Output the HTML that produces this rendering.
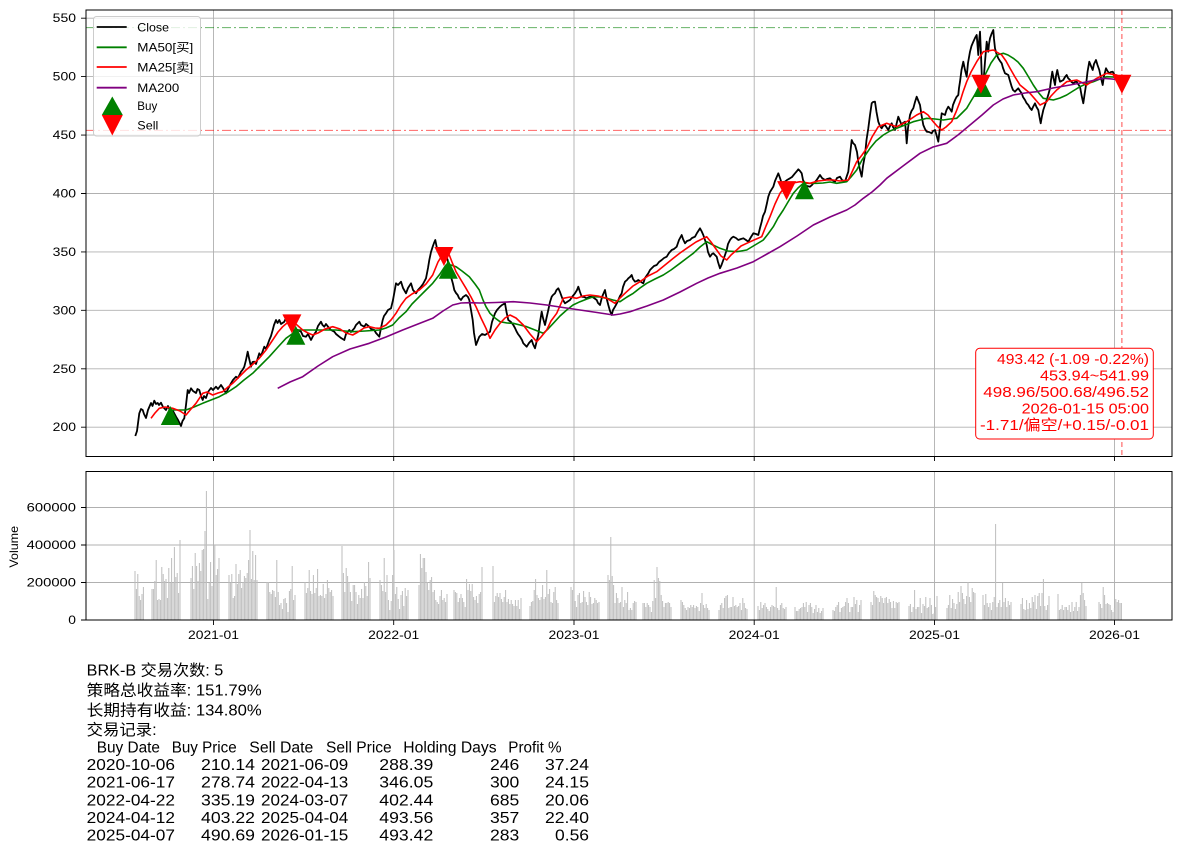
<!DOCTYPE html>
<html><head><meta charset="utf-8"><style>
html,body{margin:0;padding:0;background:#fff;}
svg{display:block;}
text{font-family:"Liberation Sans","Noto Sans CJK SC",sans-serif;fill:#000;}
</style></head><body>
<svg width="1180" height="852" viewBox="0 0 1180 852" xmlns="http://www.w3.org/2000/svg">
<defs>
<clipPath id="cm"><rect x="86" y="10" width="1086" height="446.5"/></clipPath>
<clipPath id="cv"><rect x="86" y="471.5" width="1086" height="148.5"/></clipPath>
</defs>
<rect width="1180" height="852" fill="#fff"/>

<!-- main grid -->
<g stroke="#b0b0b0" stroke-width="0.9" fill="none">
<path d="M213.5 10V456.5M393.7 10V456.5M574 10V456.5M754.2 10V456.5M934.5 10V456.5M1114.5 10V456.5"/>
<path d="M86 18.2H1172M86 76.6H1172M86 135.1H1172M86 193.5H1172M86 251.9H1172M86 310.3H1172M86 368.8H1172M86 427.2H1172"/>
</g>

<g clip-path="url(#cm)" fill="none">
<!-- horizontal ref lines -->
<path d="M86 27.6H1172" stroke="#008000" stroke-opacity="0.6" stroke-width="1" stroke-dasharray="9,3,2,3"/>
<path d="M86 130.4H1172" stroke="#ff0000" stroke-opacity="0.6" stroke-width="1" stroke-dasharray="9,3,2,3"/>
<path d="M1121.9 10V456.5" stroke="#ff0000" stroke-opacity="0.7" stroke-width="1" stroke-dasharray="5,3"/>

<!-- close -->
<polyline stroke="#000" stroke-width="1.8" stroke-linejoin="round" points="135.3,436 137,431 139.3,413.3 141,409 142.7,410 144,414 146,418 148,410 151,403 152.5,406 154.3,400.7 156,404 157.7,403 159,405 161,402.7 163,407 166,410 168,406 171,413 173,411 176,416.7 178,420 181,426 182.5,421 184.3,418.3 186,405 187.7,390 189,393 191,388.3 193,391 196,393 197.5,389 199.3,390 201,396 202.7,400 204,396 206,398 208,392 211,388 213,390 216,386.7 218,389 221,385 223,388 226,393.3 228,389 231,383.3 233,380 236,376.7 238,378 241,371.7 242.5,370 244.3,366.7 246,360 247.7,351.7 249,358 251,366.7 252.5,362 254.3,361.7 256,364 259.3,353.3 261,356 264.3,346.7 266,349 269.3,340 271,336 272.7,330 274,325 276,320 277.5,323 279.3,320 281,324 284.3,321.7 286,318 287.7,318.3 289,322 291,323.3 293,330 296,333.3 298,330 301,331.7 303,336 306,336.7 308,334 311,340 313,336 316,331.7 318,326 321,321.7 322.5,325 324.3,326.7 326,324 329.3,328.3 331,330 334.3,331.7 336,334 339.3,336.7 341,338 344.3,340 346,334 349.3,330 351,332 354.3,328.3 356,325 359.3,321.7 361,325 364.3,326.7 366,324 369.3,326.7 371,329 374.3,330 376,333 379.3,336.7 381,328 382.7,320 384,316 386,313.3 388,310 391,308.3 393,300 396,283.3 398,285 401,281.7 403,288 406,293.3 408,288 411,283.3 413,290 416,293.3 418,290 421,286.7 423,284 426,278.3 428,268 429.3,260 431,252 432.7,246.7 434,243 435.3,240 436.5,246 437.7,251.7 439,249 441,248.3 443,250 444.3,253.3 446,256 447.7,260 449,268 451,276.7 453,284 454.3,290 456,293 457.7,295 459,298 461,300 463,297 466,295 468,297 469.3,300 471,310 472.7,320 474,333 476,345 478,340 479.3,336.7 482,334 485,335 488,333 490,331.7 492,322 495,313.3 497,310 500,306.7 502,305 505,303.3 506.5,312 508.3,320 511,322 513.3,325 515,328 516.7,331.7 518,334 520,336.7 522,340 523.3,343.3 525,345 526.7,346.7 529,343 531.7,340 533,344 535,348.3 536.5,342 538.3,335 540,322 541.7,311.7 543,318 545,325 546.5,318 548.3,310 550,302 551.7,296.7 553,295 555,293.3 556.5,290 558.3,288.3 560,292 561.7,296.7 563,300 565,303.3 567,302 570,300 572,297 575,293.3 577,290 578.3,286.7 580,292 581.7,296.7 584,297 586.7,298.3 589,297 591.7,296.7 594,298 596.7,300 598,303 600,305 602,297 605,290 606.5,298 608.3,305 610,311 611.7,315 613,310 615,306.7 617,303 618.3,300 620,296 621.7,293.3 623,287 625,281.7 627,280 628.3,278.3 630,277 631.7,275 633,279 635,281.7 637,281 638.3,280 641,282 643.3,283.3 645,278 648.3,273.3 650,270 651.7,268.3 654,266 656.7,265 659,262 661.7,260 664,258 666.7,256.7 669,253 671.7,250 674,249 676.7,246.7 679,240 681.7,235 683,239 685,243.3 687,241 690,240 692,238 695,236.7 697,233 700,228.3 701.5,231 703.3,235 705,240 706.7,245 708,252 710,256.7 712,254 713.3,253.3 715,255 716.7,256.7 718,262 720,268.3 721.5,265 723.3,260 725,255 726.7,250 728,244 730,240 731.5,238 733.3,236.7 736,238 738.3,240 741,239 743.3,238.3 746,240 748.3,241.7 751,237 753.3,233.3 756,234 758.3,235 760,228 761.7,221.7 763,216 765,211.7 767,203 768.3,196.7 770,192 773.3,186.7 775,181 778.3,173.3 780,178 781.7,183.3 783,182 785,181.7 787,180 790,178.3 792,177 795,173.3 797,171 798.3,169.3 800,171 801.7,173.3 803,180 805,185 807,186 810,186.7 812,185 813.3,183.3 815,182 816.7,180 818,178 820,175 822,178 825,180 827,179 830,178.3 832,180 835,181.7 837,178 840,176.7 842,180 845,181.7 846.5,177 848.3,171.7 850,155 851.7,140 853,143 855,145 857,152 858.3,161.7 860,170 861.7,176.7 863,166 865,155 866.5,140 868.3,128.3 870,115 871.7,103.3 873,102 875,101.7 876.5,112 878.3,121.7 880,126 881.7,128.3 883,126 885,125 887,128 888.3,130 890,126 891.7,123.3 893,127 895,130 897,122 898.3,116.7 900,121 901.7,125 903,123 905,121.7 906,133 906.7,143.3 908,128 910,115 911.5,111 913.3,108.3 915,102 916.7,96.7 918,100 920,105 921.5,115 923.3,125 925,129 926.7,131.7 929,132 931.7,133.3 933,131 935,130 936.5,135 938.3,141.7 940,127 941.7,113.3 943,114 945,115 946.5,110 948.3,106.7 950,109 951.7,111.7 953,105 955,100 956.5,97 958.3,95 959,88 960,81.7 961.5,70 963.3,61.7 965,70 966.7,76.7 968,63 970,51.7 971.5,46 973.3,41.7 975,38 976.7,35 977.5,45 978.3,55 979,42 980,31.7 981,55 981.7,73.3 982.5,85 983.3,91.7 984,75 985,61.7 986,50 986.7,41.7 987.5,47 988.3,51.7 989,44 990,38.3 991.5,34 993.3,30 994,39 995,48.3 996.5,54 998.3,58.3 1000,61 1001.7,63.3 1003,68 1005,73.3 1006.5,74 1008.3,75 1010,81 1011.7,86.7 1013,90 1015,91.7 1016.5,90 1018.3,88.3 1020,91 1021.7,93.3 1023,97 1025,100 1026.5,103 1028.3,105 1030,108 1031.7,110 1033,107 1035,103.3 1036.5,107 1038.3,110 1039.5,117 1040.7,123.3 1042,116 1043.3,110 1045,105 1046.7,100 1048.5,94 1050,88.3 1051,80 1052.3,71.7 1053.5,78 1055,85 1056,76 1057.3,70 1058.5,76 1060,81.7 1061.5,81 1063.3,80 1065,77 1066.7,75 1068,78 1070,80 1071.5,82 1073.3,83.3 1075,82 1076.7,81.7 1078,84 1080,86.7 1081.5,95 1083.3,103.3 1084.5,95 1086,85 1087.5,72 1089.3,61.7 1091,66 1092.7,70 1094,64 1096,60 1097.5,65 1099.3,70 1101,78 1102.7,85 1104,76 1106,68.3 1107.5,71 1109.3,73.3 1111,72 1112.7,71.7 1114,74 1116,76.7 1118,80 1120,83.3 1121.5,84.3"/>

<!-- MA50 -->
<polyline stroke="#008000" stroke-width="1.6" stroke-linejoin="round" points="169.3,410 178,410 186,410 194,407 202.7,403.3 211,400 219.3,396.7 228,392 236,386.7 244,380 252.7,373.3 261,365 269.3,356.7 278,347 286,338.3 292,334 299.3,330 306,330 312.7,330 324,330 336,330 345,331 352.7,331.7 365,331 379.3,330 386,328 392.7,325 399,318 406,311.7 412,304 419.3,296.7 426,290 432.7,283.3 440,274 446,265 451,265 456,266.7 462,271 469.3,276.7 475,284 479.3,290 483,300 486,306.7 490,313.3 495,318 500,321.7 507,323 513.3,323.3 520,325 526.7,326.7 535,330 543.3,333.3 548,329 553.3,323.3 560,316 566.7,310 573,305 580,301.7 587,299 593.3,296.7 600,297 606.7,298.3 613,300 620,301.7 627,297 633.3,293.3 640,288 646.7,283.3 655,279 663.3,275 671,270 680,263.3 687,258 693.3,253.3 700,247 706.7,241.7 713,245 720,248.3 728,251 736.7,251.7 741,251 746.7,250 755,245 763.3,240 768,234 773.3,226.7 778,218 783.3,210 788,202 793.3,193.3 798,188 803.3,183.3 810,183.3 816.7,183.3 823,183 830,182 836.7,183.3 846.7,181.7 851,177 856.7,170 862,160 870,148.3 876,141 883.3,135 890,131 896.7,128.3 905,125 913.3,121.7 920,120 926.7,118.3 935,119 943.3,120 950,119 956.7,118.3 961,114 966.7,108.3 971,101 976.7,91.7 981,83 986.7,71.7 991,63 996.7,55 1003.3,53.3 1008,55 1013.3,58.3 1018,62 1023.3,68.3 1028,76 1033.3,85 1038,92 1043.3,98.3 1053.3,100 1060,98 1066.7,95 1073,91 1080,86.7 1086,84 1093.3,81.7 1100,79 1106.7,76.7 1113,77 1120,78.3"/>

<!-- MA25 -->
<polyline stroke="#ff0000" stroke-width="1.6" stroke-linejoin="round" points="151,418.3 155,413 159.3,408.3 165,407 172.7,408.3 180,411 186,415 191,409 196,403.3 202.7,393.3 207,392 212.7,395 218,393 222.7,391.7 228,387 232.7,383.3 240,376 246,370 252,365 259.3,358.3 266,350 272.7,340 278,332 282.7,326.7 287,323 292.7,321.7 297,325 302.7,330 308,333 312.7,335 318,333 325,329 332.7,326.7 340,329 346,333 352.7,335 358,332 364,328 369.3,326.7 375,328 379.3,328.3 386,325 391,320 396,313.3 401,305 406,298.3 412,294 419.3,290 426,284 432.7,275 438,262 444.3,251.7 449.3,255 452,262 456,271.7 461,280 466,288.3 471,297 476,306.7 481,318 486,328.3 490,338.3 495,330 500,323.3 505,318 510,315 516,318 523.3,325 530,334 536.7,341.7 541,337 546.7,330 551,321 556.7,313.3 563.3,298.3 570,297 576.7,298.3 583,296 590,295 598,296 606.7,298.3 615,303.3 620,298 626.7,291.7 633,286 640,281.7 648,276 656.7,271.7 665,265 673.3,258.3 680,253 686.7,248.3 696,242 706.7,236.7 711,242 716.7,250 721,256 726.7,260 731,255 736.7,250 741,246 746.7,243.3 754,240 761.7,236.7 766,226 770,216.7 775,204 780,193.3 786.7,185 793,183 800,181.7 810,183.3 818,181 826.7,180 833.3,180 840,181 848.3,180 852,172 856.7,161.7 862,155 866.7,148.3 872,137 878.3,126.7 886.7,123.3 896.7,126.7 906.7,121.7 916.7,115 923.3,111.7 928,115 933.3,121.7 937,126 941.7,130 946,127 951.7,121.7 956,112 960,101.7 963,92 966.7,81.7 971,72 976.7,61.7 983.3,51.7 993.3,50 1001.7,55 1006,61 1010,68.3 1015,77 1020,85 1030,93.3 1040,105 1046.7,101.7 1051,96 1056.7,90 1066.7,81.7 1076.7,80 1086.7,85 1096.7,78.3 1106.7,73.3 1116.7,75 1121.5,78.3"/>

<!-- MA200 -->
<polyline stroke="#800080" stroke-width="1.6" stroke-linejoin="round" points="277.7,388.3 290,382 302.7,376.7 318,366 332.7,356.7 350,349 369.3,343.3 386,337 402.7,330 418,324 432.7,318.3 443,311 452.7,305 461,303 469.3,302.7 480,303 496,302.5 513.3,301.7 530,303 546.7,305 563,307.5 580,310 597,312.5 613.3,315 620,314 630,311.7 647,306 663.3,300 680,292 696.7,283.3 708,278 720,273.3 737,268 753.3,261.7 767,254 780,246.7 797,236 813.3,225 830,217 846.7,210 855,205 863.3,198.3 872,192 880,185 886.7,178.3 903,166 920,153.3 933,147 946.7,143.3 958,135 970,125 982,115 993.3,105 1003,99 1013.3,95 1025,93 1036.7,91.7 1053,88 1070,85 1086,82 1103.3,78.3 1112,79 1120,80"/>

<!-- buy markers -->
<g fill="#008000" stroke="none">
<polygon points="170.3,406 160.8,425 179.8,425"/>
<polygon points="295.8,325.7 286.3,344.7 305.3,344.7"/>
<polygon points="448.3,259.7 438.8,278.7 457.8,278.7"/>
<polygon points="804.4,180.2 794.9,199.2 813.9,199.2"/>
<polygon points="982.4,78 972.9,97 991.9,97"/>
</g>
<!-- sell markers -->
<g fill="#ff0000" stroke="none">
<polygon points="282.4,314.4 301.4,314.4 291.9,333.4"/>
<polygon points="434.4,247 453.4,247 443.9,266"/>
<polygon points="777.1,181.1 796.1,181.1 786.6,200.1"/>
<polygon points="971.4,74.7 990.4,74.7 980.9,93.7"/>
<polygon points="1112.4,74.8 1131.4,74.8 1121.9,93.8"/>
</g>
</g>

<!-- info box -->
<rect x="975.7" y="348.3" width="177.6" height="90.7" rx="4" ry="4" fill="#fff" stroke="#ff0000" stroke-width="1"/>
<g font-size="15" text-anchor="end" style="fill:#ff0000">
<text x="1149" y="364" textLength="152" lengthAdjust="spacingAndGlyphs" style="fill:#ff0000">493.42 (-1.09 -0.22%)</text>
<text x="1149" y="380.5" textLength="109" lengthAdjust="spacingAndGlyphs" style="fill:#ff0000">453.94~541.99</text>
<text x="1149" y="397" textLength="165.7" lengthAdjust="spacingAndGlyphs" style="fill:#ff0000">498.96/500.68/496.52</text>
<text x="1149" y="413.5" textLength="127.3" lengthAdjust="spacingAndGlyphs" style="fill:#ff0000">2026-01-15 05:00</text>
<text x="1149" y="430" textLength="169" lengthAdjust="spacingAndGlyphs" style="fill:#ff0000">-1.71/偏空/+0.15/-0.01</text>
</g>

<!-- legend -->
<rect x="93.5" y="16.5" width="107" height="119.5" rx="3" ry="3" fill="#fff" fill-opacity="0.8" stroke="#cccccc" stroke-width="1"/>
<g stroke-width="1.8">
<path d="M96.7 27H126.7" stroke="#000"/>
<path d="M96.7 47.3H126.7" stroke="#008000"/>
<path d="M96.7 67H126.7" stroke="#ff0000"/>
<path d="M96.7 87.7H126.7" stroke="#800080"/>
</g>
<polygon points="112.3,96.5 101.8,115 122.8,115" fill="#008000"/>
<polygon points="101.8,115 122.8,115 112.3,135.5" fill="#ff0000"/>
<g font-size="12">
<text x="137.3" y="31.3" textLength="31.7" lengthAdjust="spacingAndGlyphs">Close</text>
<text x="137.3" y="51.6" textLength="56" lengthAdjust="spacingAndGlyphs">MA50[买]</text>
<text x="137.3" y="71.3" textLength="56" lengthAdjust="spacingAndGlyphs">MA25[卖]</text>
<text x="137.3" y="92" textLength="42" lengthAdjust="spacingAndGlyphs">MA200</text>
<text x="137.3" y="110" textLength="20" lengthAdjust="spacingAndGlyphs">Buy</text>
<text x="137.3" y="129.3" textLength="21" lengthAdjust="spacingAndGlyphs">Sell</text>
</g>

<!-- main spines & ticks -->
<rect x="86" y="10" width="1086" height="446.5" fill="none" stroke="#000" stroke-width="1"/>
<path stroke="#000" stroke-width="0.9" d="M81 18.2H86M81 76.6H86M81 135.1H86M81 193.5H86M81 251.9H86M81 310.3H86M81 368.8H86M81 427.2H86M213.5 456.5V461M393.7 456.5V461M574 456.5V461M754.2 456.5V461M934.5 456.5V461M1114.5 456.5V461"/>
<g font-size="12" text-anchor="end">
<text x="76" y="22.2" textLength="23.3" lengthAdjust="spacingAndGlyphs">550</text>
<text x="76" y="80.6" textLength="23.3" lengthAdjust="spacingAndGlyphs">500</text>
<text x="76" y="139.1" textLength="23.3" lengthAdjust="spacingAndGlyphs">450</text>
<text x="76" y="197.5" textLength="23.3" lengthAdjust="spacingAndGlyphs">400</text>
<text x="76" y="255.9" textLength="23.3" lengthAdjust="spacingAndGlyphs">350</text>
<text x="76" y="314.3" textLength="23.3" lengthAdjust="spacingAndGlyphs">300</text>
<text x="76" y="372.8" textLength="23.3" lengthAdjust="spacingAndGlyphs">250</text>
<text x="76" y="431.2" textLength="23.3" lengthAdjust="spacingAndGlyphs">200</text>
</g>

<!-- volume grid -->
<g stroke="#b0b0b0" stroke-width="0.9" fill="none">
<path d="M213.5 471.5V620M393.7 471.5V620M574 471.5V620M754.2 471.5V620M934.5 471.5V620M1114.5 471.5V620"/>
<path d="M86 582.5H1172M86 545H1172M86 507.5H1172"/>
</g>

<!-- volume bars -->
<g clip-path="url(#cv)">
<path fill="none" stroke="#bdbdbd" stroke-width="1" d="
M135 620v-49m1.4 49v-31m1.4 31v-46m1.4 46v-24m1.4 24v-20m1.4 20v-26m1.4 26v-33
M152 620v-31m1.4 31v-31m1.4 31v-39m1.4 39v-60m1.4 60v-20m1.4 20v-21m1.4 21v-20m1.4 20v-53m1.4 53v-46m1.4 46v-39m1.4 39v-41m1.4 41v-22m1.4 22v-52m1.4 52v-37m1.4 37v-62m1.4 62v-37m1.4 37v-73m1.4 73v-43m1.4 43v-47m1.4 47v-27m1.4 27v-80
M191 620v-42m1.4 42v-54m1.4 54v-31m1.4 31v-67m1.4 67v-54m1.4 54v-39m1.4 39v-57m1.4 57v-49m1.4 49v-70m1.4 70v-71m1.4 71v-89m1.4 89v-129m1.4 129v-21m1.4 21v-37m1.4 37v-58m1.4 58v-34m1.4 34v-37m1.4 37v-75m1.4 75v-45m1.4 45v-51m1.4 51v-62
M229 620v-45m1.4 45v-37m1.4 37v-46m1.4 46v-22m1.4 22v-24m1.4 24v-56m1.4 56v-36m1.4 36v-46m1.4 46v-50m1.4 50v-32m1.4 32v-38m1.4 38v-44m1.4 44v-42m1.4 42v-47m1.4 47v-60m1.4 60v-90m1.4 90v-41m1.4 41v-69m1.4 69v-40m1.4 40v-65m1.4 65v-40
M267 620v-38m1.4 38v-38m1.4 38v-28m1.4 28v-26m1.4 26v-30m1.4 30v-29m1.4 29v-23m1.4 23v-60m1.4 60v-28m1.4 28v-15m1.4 15v-17m1.4 17v-11m1.4 11v-21m1.4 21v-22m1.4 22v-17m1.4 17v-8m1.4 8v-29m1.4 29v-31m1.4 31v-54m1.4 54v-20m1.4 20v-25
M305 620v-38m1.4 38v-27m1.4 27v-32m1.4 32v-50m1.4 50v-29m1.4 29v-26m1.4 26v-45m1.4 45v-27m1.4 27v-32m1.4 32v-51m1.4 51v-24m1.4 24v-25m1.4 25v-24m1.4 24v-36m1.4 36v-22m1.4 22v-26m1.4 26v-40m1.4 40v-32m1.4 32v-28m1.4 28v-30m1.4 30v-24
M342 620v-74m1.4 74v-47m1.4 47v-28m1.4 28v-52m1.4 52v-44m1.4 44v-38m1.4 38v-28m1.4 28v-19m1.4 19v-35m1.4 35v-35m1.4 35v-28m1.4 28v-16m1.4 16v-25m1.4 25v-22m1.4 22v-31m1.4 31v-22m1.4 22v-38m1.4 38v-34m1.4 34v-24m1.4 24v-58m1.4 58v-42
M380 620v-40m1.4 40v-35m1.4 35v-29m1.4 29v-62m1.4 62v-28m1.4 28v-45m1.4 45v-20m1.4 20v-10m1.4 10v-19m1.4 19v-45m1.4 45v-70m1.4 70v-26m1.4 26v-33m1.4 33v-21m1.4 21v-11m1.4 11v-25m1.4 25v-29m1.4 29v-14m1.4 14v-32m1.4 32v-24m1.4 24v-30
M419 620v-35m1.4 35v-66m1.4 66v-52m1.4 52v-62m1.4 62v-62m1.4 62v-48m1.4 48v-38m1.4 38v-30m1.4 30v-40m1.4 40v-43m1.4 43v-28m1.4 28v-30m1.4 30v-20m1.4 20v-18m1.4 18v-16m1.4 16v-24m1.4 24v-30m1.4 30v-20m1.4 20v-22m1.4 22v-18m1.4 18v-26
M454 620v-30m1.4 30v-28m1.4 28v-27m1.4 27v-18m1.4 18v-22m1.4 22v-26m1.4 26v-22m1.4 22v-18m1.4 18v-13m1.4 13v-41m1.4 41v-30m1.4 30v-36m1.4 36v-29m1.4 29v-36m1.4 36v-23m1.4 23v-20m1.4 20v-24m1.4 24v-17m1.4 17v-26m1.4 26v-28m1.4 28v-53
M493 620v-54m1.4 54v-18m1.4 18v-24m1.4 24v-27m1.4 27v-23m1.4 23v-27m1.4 27v-21m1.4 21v-18m1.4 18v-23m1.4 23v-30m1.4 30v-18m1.4 18v-21m1.4 21v-16m1.4 16v-20m1.4 20v-16m1.4 16v-14m1.4 14v-20m1.4 20v-14m1.4 14v-20m1.4 20v-11m1.4 11v-22
M530 620v-14m1.4 14v-18m1.4 18v-19m1.4 19v-30m1.4 30v-41m1.4 41v-25m1.4 25v-22m1.4 22v-20m1.4 20v-23m1.4 23v-35m1.4 35v-21m1.4 21v-23m1.4 23v-50m1.4 50v-26m1.4 26v-31m1.4 31v-18m1.4 18v-17m1.4 17v-28m1.4 28v-33m1.4 33v-20m1.4 20v-17
M571 620v-33m1.4 33v-30m1.4 30v-36m1.4 36v-19m1.4 19v-13m1.4 13v-25m1.4 25v-27m1.4 27v-17m1.4 17v-18m1.4 18v-29m1.4 29v-23m1.4 23v-18m1.4 18v-15m1.4 15v-28m1.4 28v-23m1.4 23v-16m1.4 16v-17m1.4 17v-22m1.4 22v-20m1.4 20v-17m1.4 17v-18
M608 620v-45m1.4 45v-40m1.4 40v-83m1.4 83v-44m1.4 44v-35m1.4 35v-17m1.4 17v-27m1.4 27v-22m1.4 22v-17m1.4 17v-18m1.4 18v-33m1.4 33v-13m1.4 13v-20m1.4 20v-17m1.4 17v-28m1.4 28v-10m1.4 10v-12m1.4 12v-10m1.4 10v-17m1.4 17v-19m1.4 19v-18
M643 620v-17m1.4 17v-17m1.4 17v-13m1.4 13v-17m1.4 17v-15m1.4 15v-13m1.4 13v-8m1.4 8v-19m1.4 19v-40m1.4 40v-22m1.4 22v-53m1.4 53v-42m1.4 42v-39m1.4 39v-25m1.4 25v-19m1.4 19v-13m1.4 13v-17m1.4 17v-17m1.4 17v-18m1.4 18v-17m1.4 17v-13
M681 620v-20m1.4 20v-18m1.4 18v-15m1.4 15v-12m1.4 12v-10m1.4 10v-13m1.4 13v-12m1.4 12v-15m1.4 15v-13m1.4 13v-15m1.4 15v-12m1.4 12v-14m1.4 14v-13m1.4 13v-9m1.4 9v-17m1.4 17v-27m1.4 27v-15m1.4 15v-12m1.4 12v-16m1.4 16v-12m1.4 12v-10
M719 620v-10m1.4 10v-15m1.4 15v-17m1.4 17v-12m1.4 12v-22m1.4 22v-24m1.4 24v-25m1.4 25v-12m1.4 12v-13m1.4 13v-13m1.4 13v-23m1.4 23v-14m1.4 14v-15m1.4 15v-13m1.4 13v-14m1.4 14v-17m1.4 17v-10m1.4 10v-22m1.4 22v-17m1.4 17v-12m1.4 12v-11
M758 620v-14m1.4 14v-10m1.4 10v-18m1.4 18v-12m1.4 12v-15m1.4 15v-17m1.4 17v-13m1.4 13v-11m1.4 11v-9m1.4 9v-13m1.4 13v-15m1.4 15v-14m1.4 14v-13m1.4 13v-33m1.4 33v-12m1.4 12v-10m1.4 10v-15m1.4 15v-17m1.4 17v-12m1.4 12v-11m1.4 11v-13
M795 620v-13m1.4 13v-9m1.4 9v-9m1.4 9v-11m1.4 11v-12m1.4 12v-13m1.4 13v-17m1.4 17v-13m1.4 13v-18m1.4 18v-8m1.4 8v-15m1.4 15v-17m1.4 17v-13m1.4 13v-7m1.4 7v-11m1.4 11v-15m1.4 15v-8m1.4 8v-12m1.4 12v-7m1.4 7v-9m1.4 9v-12
M833 620v-10m1.4 10v-9m1.4 9v-13m1.4 13v-15m1.4 15v-18m1.4 18v-8m1.4 8v-12m1.4 12v-13m1.4 13v-14m1.4 14v-18m1.4 18v-22m1.4 22v-17m1.4 17v-8m1.4 8v-13m1.4 13v-13m1.4 13v-23m1.4 23v-16m1.4 16v-20m1.4 20v-8m1.4 8v-15m1.4 15v-20
M871 620v-18m1.4 18v-15m1.4 15v-29m1.4 29v-25m1.4 25v-23m1.4 23v-22m1.4 22v-18m1.4 18v-24m1.4 24v-22m1.4 22v-17m1.4 17v-22m1.4 22v-23m1.4 23v-17m1.4 17v-21m1.4 21v-18m1.4 18v-12m1.4 12v-19m1.4 19v-12m1.4 12v-18m1.4 18v-17m1.4 17v-18
M909 620v-14m1.4 14v-16m1.4 16v-8m1.4 8v-13m1.4 13v-30m1.4 30v-11m1.4 11v-13m1.4 13v-13m1.4 13v-22m1.4 22v-7m1.4 7v-16m1.4 16v-14m1.4 14v-23m1.4 23v-12m1.4 12v-13m1.4 13v-22m1.4 22v-15m1.4 15v-6m1.4 6v-7m1.4 7v-13m1.4 13v-24
M947 620v-12m1.4 12v-15m1.4 15v-25m1.4 25v-12m1.4 12v-21m1.4 21v-17m1.4 17v-11m1.4 11v-16m1.4 16v-28m1.4 28v-18m1.4 18v-34m1.4 34v-27m1.4 27v-21m1.4 21v-16m1.4 16v-24m1.4 24v-38m1.4 38v-23m1.4 23v-18m1.4 18v-32m1.4 32v-28m1.4 28v-27
M983 620v-25m1.4 25v-15m1.4 15v-26m1.4 26v-17m1.4 17v-13m1.4 13v-17m1.4 17v-10m1.4 10v-18m1.4 18v-23m1.4 23v-96m1.4 96v-13m1.4 13v-17m1.4 17v-20m1.4 20v-13m1.4 13v-37m1.4 37v-18m1.4 18v-22m1.4 22v-13m1.4 13v-19m1.4 19v-15m1.4 15v-18
M1021 620v-16m1.4 16v-22m1.4 22v-11m1.4 11v-10m1.4 10v-20m1.4 20v-11m1.4 11v-17m1.4 17v-12m1.4 12v-23m1.4 23v-18m1.4 18v-25m1.4 25v-11m1.4 11v-24m1.4 24v-27m1.4 27v-14m1.4 14v-27m1.4 27v-41m1.4 41v-14m1.4 14v-10m1.4 10v-15m1.4 15v-24
M1058 620v-26m1.4 26v-10m1.4 10v-11m1.4 11v-15m1.4 15v-10m1.4 10v-13m1.4 13v-13m1.4 13v-10m1.4 10v-15m1.4 15v-8m1.4 8v-18m1.4 18v-9m1.4 9v-13m1.4 13v-18m1.4 18v-9m1.4 9v-13m1.4 13v-25m1.4 25v-37m1.4 37v-27m1.4 27v-20m1.4 20v-14
M1099 620v-18m1.4 18v-16m1.4 16v-12m1.4 12v-33m1.4 33v-25m1.4 25v-16m1.4 16v-17m1.4 17v-16m1.4 16v-15m1.4 15v-10m1.4 10v-8m1.4 8v-12m1.4 12v-21m1.4 21v-18m1.4 18v-20m1.4 20v-17m1.4 17v-17"/>
</g>

<!-- volume spines & ticks -->
<rect x="86" y="471.5" width="1086" height="148.5" fill="none" stroke="#000" stroke-width="1"/>
<path stroke="#000" stroke-width="0.9" d="M81 620H86M81 582.5H86M81 545H86M81 507.5H86M213.5 620V625M393.7 620V625M574 620V625M754.2 620V625M934.5 620V625M1114.5 620V625"/>
<g font-size="12" text-anchor="end">
<text x="76" y="624" textLength="7.7" lengthAdjust="spacingAndGlyphs">0</text>
<text x="76" y="586.5" textLength="49.3" lengthAdjust="spacingAndGlyphs">200000</text>
<text x="76" y="549" textLength="49.3" lengthAdjust="spacingAndGlyphs">400000</text>
<text x="76" y="511.5" textLength="49.3" lengthAdjust="spacingAndGlyphs">600000</text>
</g>
<text x="0" y="0" font-size="12" text-anchor="middle" transform="translate(18 546.8) rotate(-90)" textLength="41.7" lengthAdjust="spacingAndGlyphs">Volume</text>
<g font-size="12" text-anchor="middle">
<text x="213.5" y="639" textLength="51" lengthAdjust="spacingAndGlyphs">2021-01</text>
<text x="393.7" y="639" textLength="51" lengthAdjust="spacingAndGlyphs">2022-01</text>
<text x="574" y="639" textLength="51" lengthAdjust="spacingAndGlyphs">2023-01</text>
<text x="754.2" y="639" textLength="51" lengthAdjust="spacingAndGlyphs">2024-01</text>
<text x="934.5" y="639" textLength="51" lengthAdjust="spacingAndGlyphs">2025-01</text>
<text x="1114.5" y="639" textLength="51" lengthAdjust="spacingAndGlyphs">2026-01</text>
</g>

<!-- bottom text -->
<g font-size="15.5">
<text x="86.7" y="675.7" textLength="136.6" lengthAdjust="spacingAndGlyphs">BRK-B 交易次数: 5</text>
<text x="86.7" y="695.6" textLength="175" lengthAdjust="spacingAndGlyphs">策略总收益率: 151.79%</text>
<text x="86.7" y="715.3" textLength="175" lengthAdjust="spacingAndGlyphs">长期持有收益: 134.80%</text>
<text x="86.7" y="735" textLength="70" lengthAdjust="spacingAndGlyphs">交易记录:</text>

<text x="96.7" y="752.5" textLength="63.3" lengthAdjust="spacingAndGlyphs">Buy Date</text>
<text x="171.7" y="752.5" textLength="65" lengthAdjust="spacingAndGlyphs">Buy Price</text>
<text x="249.3" y="752.5" textLength="64" lengthAdjust="spacingAndGlyphs">Sell Date</text>
<text x="326" y="752.5" textLength="65.7" lengthAdjust="spacingAndGlyphs">Sell Price</text>
<text x="403.3" y="752.5" textLength="93.3" lengthAdjust="spacingAndGlyphs">Holding Days</text>
<text x="508.3" y="752.5" textLength="53.3" lengthAdjust="spacingAndGlyphs">Profit %</text>
</g>
<g font-size="15.5">
<text x="86.7" y="770" textLength="88.3" lengthAdjust="spacingAndGlyphs">2020-10-06</text>
<text x="261" y="770" textLength="87.3" lengthAdjust="spacingAndGlyphs">2021-06-09</text>
<text x="86.7" y="787.7" textLength="88.3" lengthAdjust="spacingAndGlyphs">2021-06-17</text>
<text x="261" y="787.7" textLength="87.3" lengthAdjust="spacingAndGlyphs">2022-04-13</text>
<text x="86.7" y="805.3" textLength="88.3" lengthAdjust="spacingAndGlyphs">2022-04-22</text>
<text x="261" y="805.3" textLength="87.3" lengthAdjust="spacingAndGlyphs">2024-03-07</text>
<text x="86.7" y="823" textLength="88.3" lengthAdjust="spacingAndGlyphs">2024-04-12</text>
<text x="261" y="823" textLength="87.3" lengthAdjust="spacingAndGlyphs">2025-04-04</text>
<text x="86.7" y="840.5" textLength="88.3" lengthAdjust="spacingAndGlyphs">2025-04-07</text>
<text x="261" y="840.5" textLength="87.3" lengthAdjust="spacingAndGlyphs">2026-01-15</text>
</g>
<g font-size="15.5" text-anchor="end">
<text x="255" y="770" textLength="54" lengthAdjust="spacingAndGlyphs">210.14</text>
<text x="433.3" y="770" textLength="54" lengthAdjust="spacingAndGlyphs">288.39</text>
<text x="519.3" y="770" textLength="29.3" lengthAdjust="spacingAndGlyphs">246</text>
<text x="589" y="770" textLength="44" lengthAdjust="spacingAndGlyphs">37.24</text>

<text x="255" y="787.7" textLength="54" lengthAdjust="spacingAndGlyphs">278.74</text>
<text x="433.3" y="787.7" textLength="54" lengthAdjust="spacingAndGlyphs">346.05</text>
<text x="519.3" y="787.7" textLength="29.3" lengthAdjust="spacingAndGlyphs">300</text>
<text x="589" y="787.7" textLength="44" lengthAdjust="spacingAndGlyphs">24.15</text>

<text x="255" y="805.3" textLength="54" lengthAdjust="spacingAndGlyphs">335.19</text>
<text x="433.3" y="805.3" textLength="54" lengthAdjust="spacingAndGlyphs">402.44</text>
<text x="519.3" y="805.3" textLength="29.3" lengthAdjust="spacingAndGlyphs">685</text>
<text x="589" y="805.3" textLength="44" lengthAdjust="spacingAndGlyphs">20.06</text>

<text x="255" y="823" textLength="54" lengthAdjust="spacingAndGlyphs">403.22</text>
<text x="433.3" y="823" textLength="54" lengthAdjust="spacingAndGlyphs">493.56</text>
<text x="519.3" y="823" textLength="29.3" lengthAdjust="spacingAndGlyphs">357</text>
<text x="589" y="823" textLength="44" lengthAdjust="spacingAndGlyphs">22.40</text>

<text x="255" y="840.5" textLength="54" lengthAdjust="spacingAndGlyphs">490.69</text>
<text x="433.3" y="840.5" textLength="54" lengthAdjust="spacingAndGlyphs">493.42</text>
<text x="519.3" y="840.5" textLength="29.3" lengthAdjust="spacingAndGlyphs">283</text>
<text x="589" y="840.5" textLength="34" lengthAdjust="spacingAndGlyphs">0.56</text>
</g>
</svg>
</body></html>
